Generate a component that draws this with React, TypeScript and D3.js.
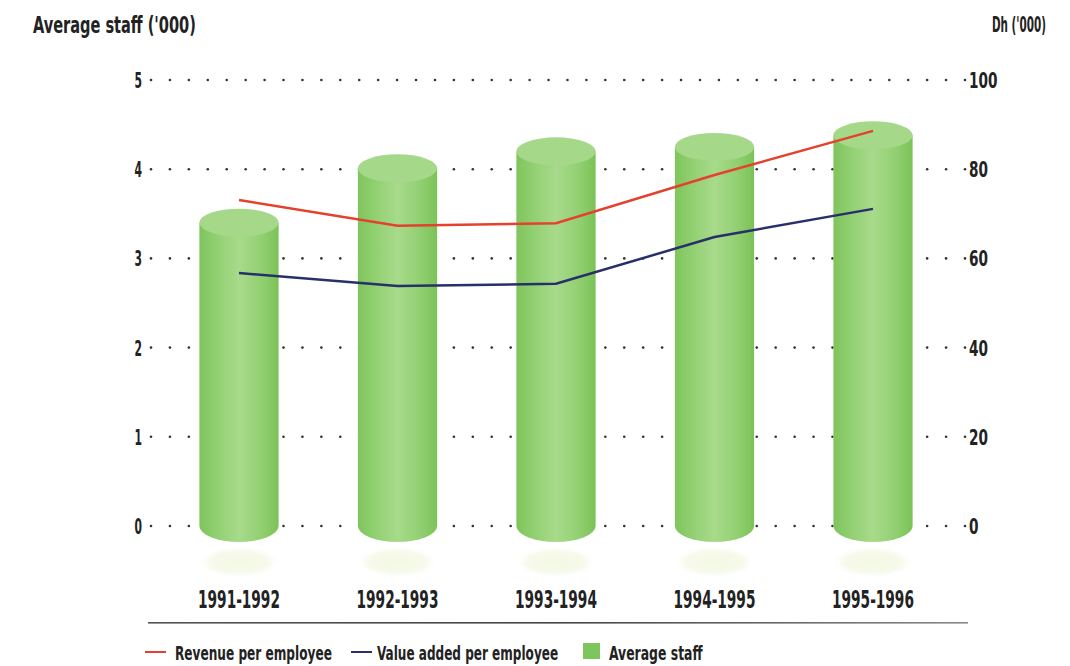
import React, { useLayoutEffect, useRef } from "react";
import * as d3 from "d3";

const periods = ["1991-1992", "1992-1993", "1993-1994", "1994-1995", "1995-1996"];
const averageStaff = [3.4, 4.01, 4.2, 4.25, 4.38];
const revenuePerEmployee = [73.1, 67.3, 67.9, 78.7, 88.6];
const valueAddedPerEmployee = [56.7, 53.8, 54.3, 64.8, 71.1];
const leftTicks = [0, 1, 2, 3, 4, 5];
const rightTicks = [0, 20, 40, 60, 80, 100];

const W = 1070;
const H = 666;
const FONT = "'Liberation Sans Narrow', 'DejaVu Sans Condensed', 'Roboto', sans-serif";
const RED = "#e4412e";
const NAVY = "#28306a";

function CT(props: { x: number; y: number; text: string; size: number; cw: number; anchor?: string; dy?: string }) {
  const ref = useRef<SVGTextElement>(null);
  const target = props.text.length * props.cw;
  useLayoutEffect(() => {
    const el = ref.current;
    if (!el) return;
    el.removeAttribute("transform");
    const natural = el.getComputedTextLength();
    if (natural > 0) {
      const sx = target / natural;
      el.setAttribute("transform", `translate(${props.x},0) scale(${sx},1) translate(${-props.x},0)`);
    }
  }, [props.x, props.text, target]);
  return (
    <text
      ref={ref}
      x={props.x}
      y={props.y}
      fontFamily={FONT}
      fontWeight="bold"
      fontSize={props.size}
      fill="#222"
      textAnchor={props.anchor || "start"}
      dy={props.dy}
    >
      {props.text}
    </text>
  );
}

export default function App() {
  const x = d3.scaleBand<string>().domain(periods).range([159.75, 952.25]).paddingInner(0.5).paddingOuter(0.25);
  const yL = d3.scaleLinear().domain([0, 5]).range([526, 80]);
  const yR = d3.scaleLinear().domain([0, 100]).range([526, 80]);
  const cx = (p: string) => (x(p) as number) + x.bandwidth() / 2;
  const rx = x.bandwidth() / 2;
  const ry = 14;

  const line = d3
    .line<number>()
    .x((_, i) => cx(periods[i]))
    .y((v) => yR(v));

  const dotStart = 151;
  const dotEnd = 965;
  const nDots = 43;
  const dotXs = d3.range(nDots + 1).map((i) => dotStart + ((dotEnd - dotStart) * i) / nDots);

  return (
    <svg width={W} height={H} style={{ position: "absolute", left: 0, top: 0 }}>
      <defs>
        <linearGradient id="cyl" x1="0" x2="1" y1="0" y2="0">
          <stop offset="0" stopColor="#7fc45c" />
          <stop offset="0.2" stopColor="#90cf70" />
          <stop offset="0.5" stopColor="#a8da8b" />
          <stop offset="0.8" stopColor="#90cf70" />
          <stop offset="1" stopColor="#7bc257" />
        </linearGradient>
        <radialGradient id="shadow" cx="0.5" cy="0.5" r="0.5">
          <stop offset="0" stopColor="#f3f8e3" />
          <stop offset="0.7" stopColor="#f7faec" />
          <stop offset="1" stopColor="#ffffff" stopOpacity="0" />
        </radialGradient>
        <linearGradient id="rule" x1="0" x2="1" y1="0" y2="0">
          <stop offset="0" stopColor="#555" />
          <stop offset="0.5" stopColor="#444" />
          <stop offset="1" stopColor="#888" />
        </linearGradient>
      </defs>
      <rect width={W} height={H} fill="#fff" />

      {/* titles */}
      <CT x={33} y={33} text="Average staff ('000)" size={23} cw={8.15} />
      <CT x={992} y={32} text="Dh ('000)" size={22} cw={6.0} />

      {/* dotted grid */}
      {leftTicks.map((t) => (
        <g key={"g" + t}>
          {dotXs.map((dx, i) => (
            <circle key={i} cx={dx} cy={yL(t)} r={1.3} fill="#333" />
          ))}
        </g>
      ))}

      {/* left ticks */}
      {leftTicks.map((t) => (
        <CT key={"l" + t} x={142} y={yL(t)} dy="0.36em" text={String(t)} size={22} cw={7.5} anchor="end" />
      ))}
      {/* right ticks */}
      {rightTicks.map((t) => (
        <CT key={"r" + t} x={969} y={yR(t)} dy="0.36em" text={String(t)} size={22} cw={9.5} />
      ))}

      {/* shadows */}
      {periods.map((p) => (
        <ellipse key={"s" + p} cx={cx(p)} cy={562} rx={rx + 2} ry={16} fill="url(#shadow)" />
      ))}

      {/* cylinders */}
      {periods.map((p, i) => {
        const c = cx(p);
        const top = yL(averageStaff[i]);
        const bot = yL(0);
        const d = `M${c - rx},${top} L${c - rx},${bot} A${rx},${ry + 2} 0 0 0 ${c + rx},${bot} L${c + rx},${top} Z`;
        return (
          <g key={"c" + p}>
            <path d={d} fill="url(#cyl)" />
            <ellipse cx={c} cy={top} rx={rx} ry={ry} fill="#a5d989" />
          </g>
        );
      })}

      {/* lines */}
      <path d={line(revenuePerEmployee) || ""} fill="none" stroke={RED} strokeWidth={2.5} />
      <path d={line(valueAddedPerEmployee) || ""} fill="none" stroke={NAVY} strokeWidth={2.5} />

      {/* x labels */}
      {periods.map((p) => (
        <CT key={"x" + p} x={cx(p)} y={608} text={p} size={24} cw={9.1} anchor="middle" />
      ))}

      {/* rule */}
      <rect x={148} y={622} width={820} height={1.6} fill="url(#rule)" />

      {/* legend */}
      <line x1={145} x2={166} y1={652} y2={652} stroke={RED} strokeWidth={2} />
      <CT x={175} y={660} text="Revenue per employee" size={20} cw={7.85} />
      <line x1={351} x2={372} y1={652} y2={652} stroke={NAVY} strokeWidth={2} />
      <CT x={377} y={660} text="Value added per employee" size={20} cw={7.55} />
      <rect x={583} y={643} width={17} height={16} fill="#7fc55e" />
      <CT x={609} y={660} text="Average staff" size={20} cw={7.2} />
    </svg>
  );
}
